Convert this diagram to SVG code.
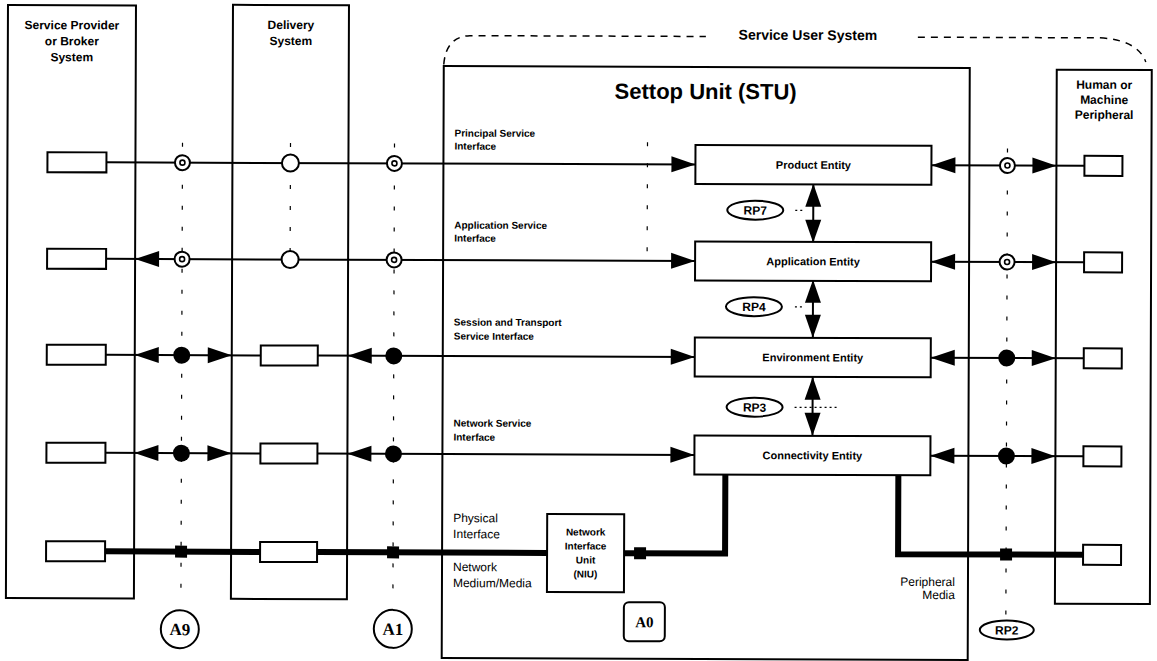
<svg xmlns="http://www.w3.org/2000/svg" xmlns:xlink="http://www.w3.org/1999/xlink" width="1157" height="661" viewBox="0 0 1157 661">
<style>
.box{fill:#fff;stroke:#000;stroke-width:2}
.ln{stroke:#000;stroke-width:2;fill:none}
.thick{stroke:#000;stroke-width:6;fill:none}
.dot{stroke:#000;stroke-width:1.2;stroke-dasharray:4 17;fill:none}
.dash{stroke:#000;stroke-width:1.5;stroke-dasharray:7 6;fill:none}
text{font-family:"Liberation Sans",Arial,sans-serif;fill:#000}
.h{font-size:12px;font-weight:bold;text-anchor:middle}
.ifc{font-size:10px;font-weight:bold}
.ent{font-size:11px;font-weight:bold;text-anchor:middle}
.rp{font-size:12px;font-weight:bold;text-anchor:middle}
.med{font-size:12px}
.ax{font-family:"Liberation Serif","Times New Roman",serif;font-size:17px;font-weight:bold;text-anchor:middle}
</style>
<defs>
<path id="ahR" d="M0,0 L-24,-8 L-24,8 Z" fill="#000"/>
<path id="ahL" d="M0,0 L24,-8 L24,8 Z" fill="#000"/>
<path id="ahU" d="M0,0 L-8,23 L8,23 Z" fill="#000"/>
<path id="ahD" d="M0,0 L-8,-23 L8,-23 Z" fill="#000"/>
<g id="tgt"><circle r="7.5" fill="#fff" stroke="#000" stroke-width="2"/><circle r="2.5" fill="#fff" stroke="#000" stroke-width="1.6"/></g>
<circle id="opn" r="8.5" fill="#fff" stroke="#000" stroke-width="2"/>
<circle id="fil" r="8.5" fill="#000"/>
<rect id="sq" x="-6" y="-6" width="12" height="12" fill="#000"/>
</defs>
<rect width="1157" height="661" fill="#fff"/>
<g transform="rotate(0.2)">
<g id="service-provider-system">
<rect class="box" x="8" y="5" width="128" height="593"/>
<text class="h" x="72" y="29">Service Provider</text>
<text class="h" x="72" y="45">or Broker</text>
<text class="h" x="72" y="61">System</text>
<rect class="box" x="48" y="152" width="59" height="20"/>
<rect class="box" x="48" y="248.5" width="59" height="20"/>
<rect class="box" x="48" y="344.5" width="59" height="20"/>
<rect class="box" x="48" y="442.5" width="59" height="20"/>
<rect class="box" x="48" y="541" width="59" height="20"/>
</g>
<g id="delivery-system">
<rect class="box" x="233" y="4" width="116" height="594"/>
<text class="h" x="291" y="28">Delivery</text>
<text class="h" x="291" y="44">System</text>
</g>
<g id="service-user-system">
<path class="dash" d="M444,63 Q446,35 470,34 L706,34"/>
<path class="dash" d="M918,34 L1100,34 Q1138,36 1146,58"/>
<text x="808" y="37" style="font-size:14px;font-weight:bold;text-anchor:middle">Service User System</text>
</g>
<g id="settop-unit">
<rect class="box" x="444" y="64.5" width="526" height="592"/>
<text x="706" y="96.5" style="font-size:22px;font-weight:bold;text-anchor:middle">Settop Unit (STU)</text>
<text class="ifc" x="455" y="135">Principal Service</text>
<text class="ifc" x="455" y="148">Interface</text>
<text class="ifc" x="455" y="227">Application Service</text>
<text class="ifc" x="455" y="240">Interface</text>
<text class="ifc" x="455" y="324">Session and Transport</text>
<text class="ifc" x="455" y="338">Service Interface</text>
<text class="ifc" x="455" y="425">Network Service</text>
<text class="ifc" x="455" y="439">Interface</text>
<text class="med" x="455" y="520.5">Physical</text>
<text class="med" x="455" y="536.5">Interface</text>
<text class="med" x="455" y="569.5">Network</text>
<text class="med" x="455" y="585.5">Medium/Media</text>
<text class="med" x="957" y="582.7" text-anchor="end">Peripheral</text>
<text class="med" x="957" y="595.7" text-anchor="end">Media</text>
</g>
<g id="human-machine-peripheral">
<rect class="box" x="1057" y="66" width="95" height="534"/>
<text class="h" x="1104.5" y="85">Human or</text>
<text class="h" x="1104.5" y="100">Machine</text>
<text class="h" x="1104.5" y="115">Peripheral</text>
</g>
<g id="connectors">
<path class="dot" d="M183,142 V598 M395,142 V598 M291,142 V265 M648,140 V250 M1008,145 V615"/>
<path class="dot" d="M796,207.5 H806 M796,304 H806 M796,404.5 H840" style="stroke-dasharray:2 3"/>
<path class="ln" d="M107,162 H696 M932,162 H1085"/>
<path class="ln" d="M107,258.5 H696 M932,258.5 H1085"/>
<path class="ln" d="M107,354.5 H262 M319,354.5 H696 M932,354.5 H1085"/>
<path class="ln" d="M107,452.5 H262 M319,452.5 H696 M932,452.5 H1085"/>
<path class="thick" d="M107,551 H262 M319,551 H549 M626,551 H727 V471"/>
<path class="thick" d="M900,471 V551 H1085"/>
<path class="ln" d="M814,181 V240 M814,277 V335 M814,374 V433"/>
<use xlink:href="#ahR" x="696" y="162"/>
<use xlink:href="#ahR" x="696" y="258.5"/>
<use xlink:href="#ahR" x="696" y="354.5"/>
<use xlink:href="#ahR" x="696" y="452.5"/>
<use xlink:href="#ahL" x="932" y="162"/>
<use xlink:href="#ahL" x="932" y="258.5"/>
<use xlink:href="#ahL" x="932" y="354.5"/>
<use xlink:href="#ahL" x="932" y="452.5"/>
<use xlink:href="#ahR" x="1057" y="162"/>
<use xlink:href="#ahR" x="1057" y="258.5"/>
<use xlink:href="#ahR" x="1057" y="354.5"/>
<use xlink:href="#ahR" x="1057" y="452.5"/>
<use xlink:href="#ahL" x="136" y="258.5"/>
<use xlink:href="#ahL" x="136" y="354.5"/>
<use xlink:href="#ahL" x="136" y="452.5"/>
<use xlink:href="#ahR" x="233" y="354.5"/>
<use xlink:href="#ahR" x="233" y="452.5"/>
<use xlink:href="#ahL" x="349" y="354.5"/>
<use xlink:href="#ahL" x="349" y="452.5"/>
<use xlink:href="#ahU" x="814" y="181"/>
<use xlink:href="#ahD" x="814" y="240"/>
<use xlink:href="#ahU" x="814" y="277"/>
<use xlink:href="#ahD" x="814" y="335"/>
<use xlink:href="#ahU" x="814" y="374"/>
<use xlink:href="#ahD" x="814" y="433"/>
<use xlink:href="#tgt" x="183" y="162"/>
<use xlink:href="#opn" x="291" y="162"/>
<use xlink:href="#tgt" x="395" y="162"/>
<use xlink:href="#tgt" x="1008" y="162"/>
<use xlink:href="#tgt" x="183" y="258.5"/>
<use xlink:href="#opn" x="291" y="258.5"/>
<use xlink:href="#tgt" x="395" y="258.5"/>
<use xlink:href="#tgt" x="1008" y="258.5"/>
<use xlink:href="#fil" x="183" y="354.5"/>
<use xlink:href="#fil" x="395" y="354.5"/>
<use xlink:href="#fil" x="1008" y="354.5"/>
<use xlink:href="#fil" x="183" y="452.5"/>
<use xlink:href="#fil" x="395" y="452.5"/>
<use xlink:href="#fil" x="1008" y="452.5"/>
<use xlink:href="#sq" x="183" y="551"/>
<use xlink:href="#sq" x="395" y="551"/>
<use xlink:href="#sq" x="642" y="551"/>
<use xlink:href="#sq" x="1008" y="551"/>
</g>
<g id="delivery-boxes">
<rect class="box" x="262" y="344.5" width="57" height="20"/>
<rect class="box" x="262" y="442.5" width="57" height="20"/>
<rect class="box" x="262" y="541" width="57" height="20"/>
</g>
<g id="peripheral-boxes">
<rect class="box" x="1085" y="152" width="38" height="20"/>
<rect class="box" x="1085" y="248.5" width="38" height="20"/>
<rect class="box" x="1085" y="344.5" width="38" height="20"/>
<rect class="box" x="1085" y="442.5" width="38" height="20"/>
<rect class="box" x="1085" y="541" width="38" height="20"/>
</g>
<g id="product-entity">
<rect class="box" x="696" y="142.5" width="236" height="39"/>
<text class="ent" x="814" y="166">Product Entity</text>
</g>
<g id="application-entity">
<rect class="box" x="696" y="239" width="236" height="39"/>
<text class="ent" x="814" y="262.5">Application Entity</text>
</g>
<g id="environment-entity">
<rect class="box" x="696" y="335" width="236" height="39"/>
<text class="ent" x="814" y="358.5">Environment Entity</text>
</g>
<g id="connectivity-entity">
<rect class="box" x="696" y="433" width="236" height="39"/>
<text class="ent" x="814" y="456.5">Connectivity Entity</text>
</g>
<g id="niu">
<rect class="box" x="549" y="512" width="77" height="78"/>
<text class="ifc" x="587.5" y="533.5" text-anchor="middle">Network</text>
<text class="ifc" x="587.5" y="547.5" text-anchor="middle">Interface</text>
<text class="ifc" x="587.5" y="561.5" text-anchor="middle">Unit</text>
<text class="ifc" x="587.5" y="575.5" text-anchor="middle">(NIU)</text>
</g>
<g id="rp7"><ellipse class="box" cx="756" cy="207.5" rx="28" ry="9.5"/><text class="rp" x="756" y="212">RP7</text></g>
<g id="rp4"><ellipse class="box" cx="755" cy="304" rx="28" ry="9.5"/><text class="rp" x="755" y="308.5">RP4</text></g>
<g id="rp3"><ellipse class="box" cx="756" cy="404.5" rx="28" ry="9.5"/><text class="rp" x="756" y="409">RP3</text></g>
<g id="rp2"><ellipse class="box" cx="1009" cy="626.5" rx="27" ry="9.5"/><text class="rp" x="1009" y="631">RP2</text></g>
<g id="a9"><circle class="box" cx="182" cy="628.5" r="19"/><text class="ax" x="182" y="634.5">A9</text></g>
<g id="a1"><circle class="box" cx="395" cy="627.5" r="19"/><text class="ax" x="395" y="633.5">A1</text></g>
<g id="a0"><rect class="box" x="626" y="600" width="41" height="39" rx="5"/><text class="ax" x="646.5" y="625" style="font-size:15px">A0</text></g>
</g>
</svg>
